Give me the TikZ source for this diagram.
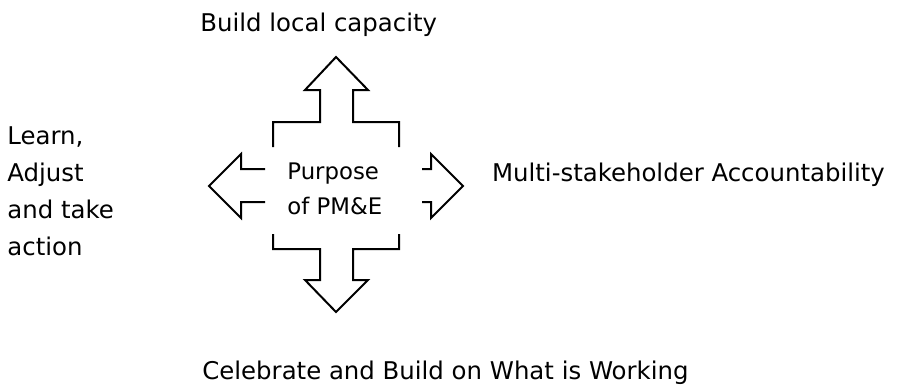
\documentclass[tikz,border=0pt]{standalone}
\usepackage{fontspec}
\setmainfont{DejaVu Sans}
\usepackage{tikz}

\tikzset{
    outline/.style={line width=1pt, black},
    lbl/.style={anchor=base west, inner sep=0pt, font=\fontsize{12.2}{18.5}\selectfont},
    multilbl/.style={lbl, align=left}
}

\begin{document}
\begin{tikzpicture}[x=0.5pt, y=-0.5pt]
    \useasboundingbox (0,0) rectangle (903,387);

    % four-way arrow, drawn in pieces so the middle stays open
    \draw[outline] (273,147) -- (273,122) -- (320,122) -- (320,90) -- (305,90) -- (336,57)
                   -- (368,90) -- (353,90) -- (353,122) -- (399,122) -- (399,147);
    \draw[outline] (273,234) -- (273,249) -- (320,249) -- (320,280) -- (305,280) -- (336,312)
                   -- (368,280) -- (353,280) -- (353,249) -- (399,249) -- (399,234);
    \draw[outline] (265,169) -- (241,169) -- (241,154) -- (209,186) -- (241,218) -- (241,202) -- (265,202);
    \draw[outline] (422,169) -- (431,169) -- (431,154) -- (463,186) -- (431,218) -- (431,202) -- (422,202);

    \node[multilbl, anchor=north west, font=\fontsize{11.4}{17.5}\selectfont] (purpose) at (287,162) {Purpose\\of PM\&E};

    \node[lbl] (capacity) at (200,31.7) {Build local capacity};
    \node[lbl] (account) at (491.7,181.7) {Multi-stakeholder Accountability};
    \node[lbl] (celebrate) at (202,379.5) {Celebrate and Build on What is Working};
    \node[multilbl, anchor=north west] (learn) at (7,126) {Learn,\\Adjust\\and take\\action};
\end{tikzpicture}
\end{document}
